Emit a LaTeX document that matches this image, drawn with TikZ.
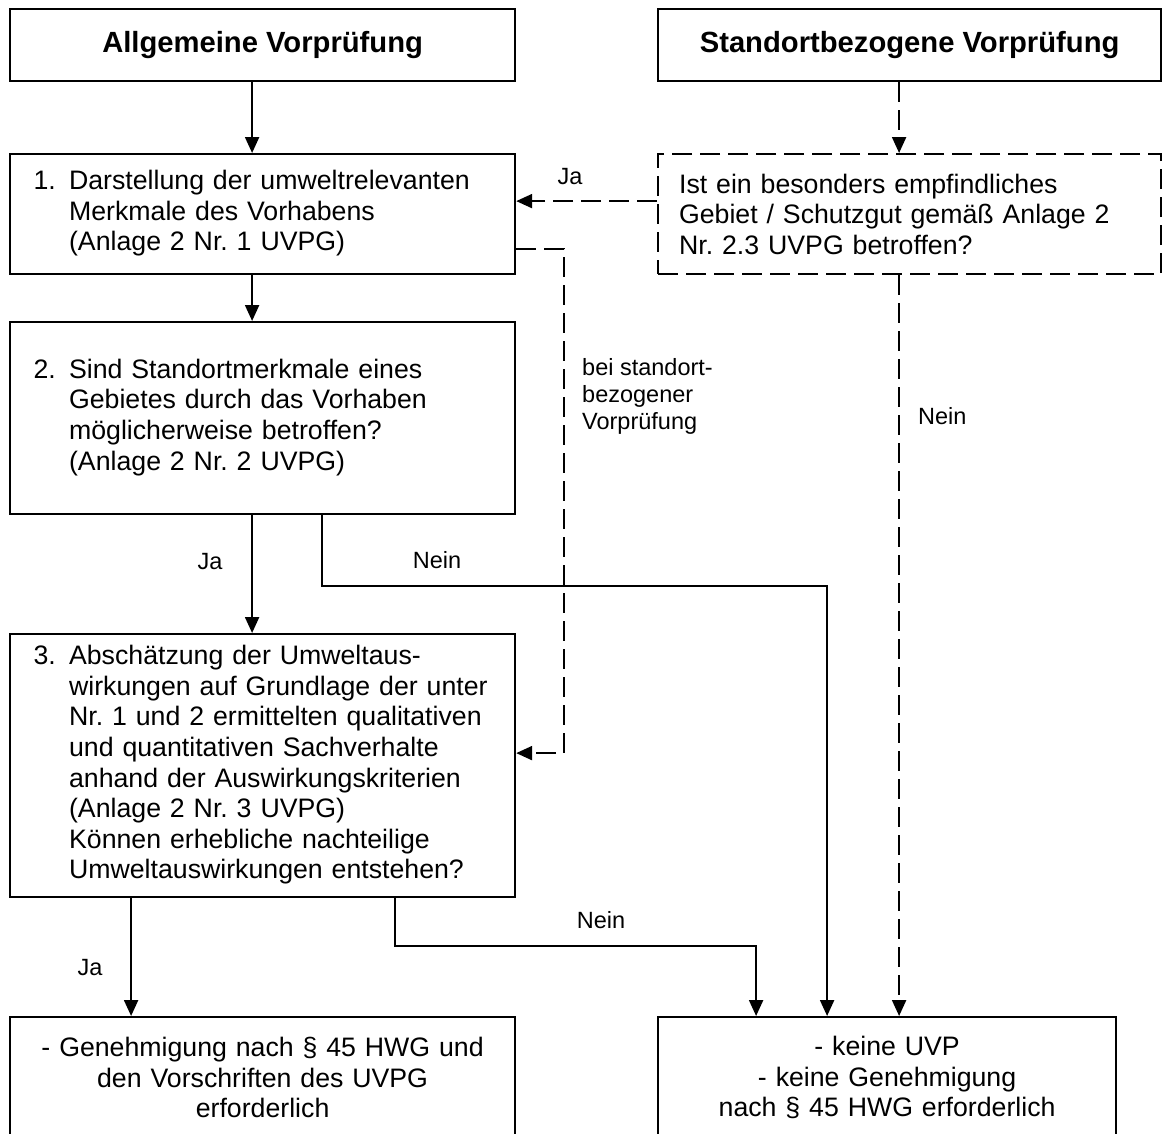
\documentclass[tikz,border=0pt]{standalone}
\usepackage{fontspec}
\setmainfont{Liberation Sans}
\usetikzlibrary{arrows.meta, positioning, calc}
\frenchspacing

\newcommand{\stepitem}[2]{\begin{tabular}[t]{@{}p{35.5pt}@{}l@{}}#1 & #2\end{tabular}}

\tikzset{
    box/.style={draw, line width=2.2pt, inner sep=0pt, anchor=north west, font=\fontsize{26.7}{30.6}\selectfont},
    headbox/.style={box, minimum height=72pt, font=\bfseries\fontsize{29.2}{33}\selectfont},
    stepbox/.style={box, minimum width=505pt, text width=458pt, inner xsep=23.5pt, align=left},
    endbox/.style={box, minimum height=121pt, text width=440pt, align=center},
    dashbox/.style={dash pattern=on 20pt off 8pt},
    flow/.style={line width=2.2pt, -{Triangle[length=16pt, width=14pt]}},
    dflow/.style={flow, dash pattern=on 20pt off 8pt},
    lbl/.style={font=\fontsize{23.5}{27}\selectfont, inner sep=0pt}
}

\begin{document}
\begin{tikzpicture}[x=1pt, y=-1pt]
    \useasboundingbox (0,0) rectangle (1162,1133);
    \clip (0,0) rectangle (1162,1133);

    % Headings
    \node[headbox, minimum width=505pt] (allg) at (9,8) {Allgemeine Vorprüfung};
    \node[headbox, minimum width=503pt] (stand) at (657,8) {Standortbezogene Vorprüfung};

    % Left column: steps 1 to 3
    \node[stepbox, minimum height=120pt] (s1) at (9,153)
        {\stepitem{1.}{Darstellung der umweltrelevanten\\ & Merkmale des Vorhabens\\ & (Anlage 2 Nr. 1 UVPG)}};
    \node[stepbox, minimum height=192pt] (s2) at (9,321)
        {\stepitem{2.}{Sind Standortmerkmale eines\\ & Gebietes durch das Vorhaben\\ & möglicherweise betroffen?\\ & (Anlage 2 Nr. 2 UVPG)}};
    \node[stepbox, minimum height=263pt] (s3) at (9,633)
        {\stepitem{3.}{Abschätzung der Umweltaus-\\ & wirkungen auf Grundlage der unter\\ & Nr. 1 und 2 ermittelten qualitativen\\ & und quantitativen Sachverhalte\\ & anhand der Auswirkungskriterien\\ & (Anlage 2 Nr. 3 UVPG)\\ & Können erhebliche nachteilige\\ & Umweltauswirkungen entstehen?}};

    % Right column: question (dashed)
    \node[box, dashbox, minimum width=503pt, minimum height=120pt, text width=461pt, inner xsep=21pt, align=left] (frage) at (657,153)
        {Ist ein besonders empfindliches\\Gebiet / Schutzgut gemäß Anlage 2\\Nr. 2.3 UVPG betroffen?};

    % Results
    \node[endbox, minimum width=505pt, text width=495pt] (ja) at (9,1016)
        {- Genehmigung nach § 45 HWG und\\den Vorschriften des UVPG\\erforderlich};
    \node[endbox, minimum width=458pt] (nein) at (657,1016)
        {- keine UVP\\- keine Genehmigung\\nach § 45 HWG erforderlich};

    % Solid connectors
    \draw[flow] ($(allg.south)+(-10.5,0)$) -- ($(s1.north)+(-10.5,0)$);
    \draw[flow] ($(s1.south)+(-10.5,0)$) -- ($(s2.north)+(-10.5,0)$);
    \draw[flow] ($(s2.south)+(-10.5,0)$) -- ($(s3.north)+(-10.5,0)$);
    \draw[flow] ($(s2.south)+(59.5,0)$) -- ++(0,71) -| ($(nein.north)+(-60,0)$);
    \draw[flow] ($(s3.south)+(-131.5,0)$) -- ($(ja.north)+(-131.5,0)$);
    \draw[flow] ($(s3.south)+(132.5,0)$) -- ++(0,48) -| ($(nein.north)+(-131,0)$);

    % Dashed connectors
    \draw[dflow] ($(stand.south)+(-10.5,0)$) -- ($(frage.north)+(-10.5,0)$);
    \draw[dflow] ($(frage.west)+(0,-13)$) -- ($(s1.east)+(0,-13)$);
    \draw[dflow] ($(frage.south)+(-10.5,0)$) -- ($(nein.north)+(12,0)$);
    \draw[dflow] ($(s1.east)+(0,35)$) -- ++(48,0) |- ($(s3.east)+(0,-12.5)$);

    % Labels
    \node[lbl] (jaoben) at (570,177) {Ja};
    \node[lbl, anchor=west, align=left] (beistand) at (582,396) {bei standort-\\bezogener\\Vorprüfung};
    \node[lbl, anchor=west] (neinrechts) at (918,416) {Nein};
    \node[lbl] (ja2) at (210,562) {Ja};
    \node[lbl] (nein2) at (437,560) {Nein};
    \node[lbl] (ja3) at (90,968) {Ja};
    \node[lbl] (nein3) at (601,920) {Nein};
\end{tikzpicture}
\end{document}
